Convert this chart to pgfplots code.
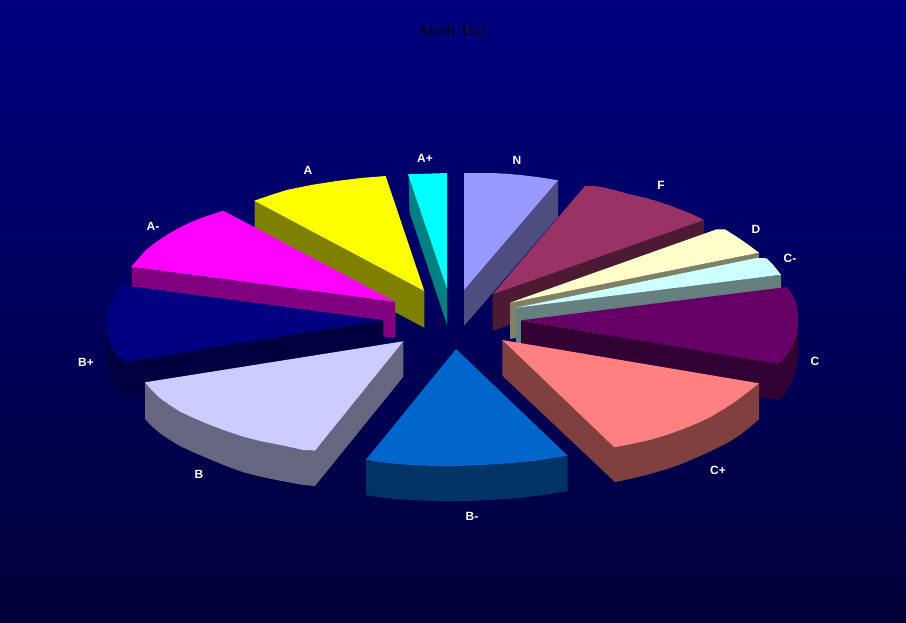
\documentclass[border=0pt]{standalone}
\usepackage{fontspec}
\setmainfont{Liberation Sans}
\usepackage{pgfplots}
\pgfplotsset{compat=1.18}

\definecolor{bgtop}{RGB}{0,0,128}
\definecolor{bgbot}{RGB}{0,0,56}
\definecolor{ntop}{RGB}{153,153,255}  \definecolor{nside}{RGB}{77,77,128}
\definecolor{aptop}{RGB}{0,255,255}   \definecolor{apside}{RGB}{0,128,128}
\definecolor{atop}{RGB}{255,255,0}    \definecolor{aside}{RGB}{128,128,0}
\definecolor{ftop}{RGB}{153,51,102}   \definecolor{fside}{RGB}{77,26,51}
\definecolor{dtop}{RGB}{255,255,204}  \definecolor{dside}{RGB}{128,128,102}
\definecolor{cmtop}{RGB}{204,255,255} \definecolor{cmside}{RGB}{102,128,128}
\definecolor{amtop}{RGB}{255,0,255}   \definecolor{amside}{RGB}{128,0,128}
\definecolor{ctop}{RGB}{102,0,102}    \definecolor{cside}{RGB}{51,0,51}
\definecolor{bptop}{RGB}{0,0,128}     \definecolor{bpside}{RGB}{0,0,64}
\definecolor{btop}{RGB}{204,204,255}  \definecolor{bside}{RGB}{102,102,128}
\definecolor{cptop}{RGB}{255,128,128} \definecolor{cpside}{RGB}{128,64,64}
\definecolor{bmtop}{RGB}{0,102,204}   \definecolor{bmside}{RGB}{0,51,102}

\tikzset{lab/.style={text=white, font=\fontsize{9}{10}\selectfont\bfseries, inner sep=0pt}}

\begin{document}
\begin{tikzpicture}
  % axis units are the pixels of the picture
  \begin{axis}[
      scale only axis,
      width=679.5bp,
      height=467.25bp,
      xmin=0, xmax=906,
      ymin=0, ymax=623,
      y dir=reverse,
      hide axis,
      clip=true,
      every axis plot/.append style={draw=none, no markers},
    ]
    \addplot[top color=bgtop, bottom color=bgbot] coordinates {(0,0) (906,0) (906,623) (0,623)} --cycle;

    % N
    \addplot[fill=nside] coordinates {(558,180.3) (464,290) (464,326) (558,217)} --cycle;
    \addplot[fill=ntop] coordinates {(464,173) (491.7,173) (507,173.8) (523.3,175.3) (541,177.5) (558,180.3) (464,290)} --cycle;
    % A+
    \addplot[fill=apside] coordinates {(408.5,175) (447,289) (447,325) (409.5,212)} --cycle;
    \addplot[fill=aptop] coordinates {(408,174.3) (447,173) (447,289)} --cycle;
    % A
    \addplot[fill=aside] coordinates {(254.5,200.7) (424.3,291) (424.3,327.7) (254.5,237.4)} --cycle;
    \addplot[fill=atop] coordinates {(254.3,200.7) (270,195.3) (286.7,190) (311,185) (336.7,181) (361,178) (385.7,176) (424.3,291)} --cycle;
    % F
    \addplot[fill=fside] coordinates {(492.7,294.3) (704,220) (704,257) (492.7,330.7)} --cycle;
    \addplot[fill=ftop] coordinates {(492.7,294.3) (585,186) (594,186) (603.3,187.3) (616,190.5) (630,194.3) (644,197.5) (656.7,201) (670,205.5) (683.3,210.7) (694,215) (704,220)} --cycle;
    % D
    \addplot[fill=dside] coordinates {(510,302.7) (759,252.7) (759,289) (510,339)} --cycle;
    \addplot[fill=dtop] coordinates {(510,302.7) (716.7,229.3) (725,229.3) (730,232.5) (736.7,236.7) (748,244.5) (759,252.7)} --cycle;
    % C-
    \addplot[fill=cmside] coordinates {(516,307.7) (781,274.7) (781,311) (516,344)} --cycle;
    \addplot[fill=cmtop] coordinates {(516,307.7) (756.7,258) (766.7,258.3) (773.3,265) (781,274.7)} --cycle;
    % A-
    \addplot[fill=amside] coordinates {(132,267) (395,301.7) (395,338) (132,303)} --cycle;
    \addplot[fill=amtop] coordinates {(131.3,266.7) (140,256.7) (146,250) (153.3,244) (165,236) (178.3,228.3) (190,222.5) (203.3,217.3) (223.3,210.7) (395,301.7)} --cycle;
    % C
    \addplot[fill=cside] coordinates {(521,320.3) (778.3,364) (798,313.3) (798,350) (797.5,360) (796,370) (792.7,380) (788,389) (783.5,395) (778.3,400) (521,357)} --cycle;
    \addplot[fill=ctop] coordinates {(521,320.3) (786.7,287) (790.5,291.5) (793.3,296.7) (796.5,305) (798,313.3) (798,323.5) (796.7,333.3) (793.5,344) (788.3,353.3) (783.5,359) (778.3,364)} --cycle;
    % B+
    \addplot[fill=bpside] coordinates {(106,320) (106,357) (107,367) (108.3,376) (112.5,385) (118,392) (125,397) (383.3,357) (383.3,320) (124.3,361.7)} --cycle;
    \addplot[fill=bptop] coordinates {(121.7,285) (115.8,292) (111.7,300) (108,310) (106,320) (106.5,330) (108.3,340) (112.5,349) (118,356) (124.3,361.7) (383.3,320)} --cycle;
    % B
    \addplot[fill=bside] coordinates {(145,382.3) (152,390.5) (160,398.3) (170,405.3) (180,411.7) (195,418.7) (210,425) (226,431) (243.3,436.7) (261,441.3) (280,445) (303.3,450) (315,450.7) (403.3,341.3) (403.3,376.7) (315,486) (303.3,485) (280,480.7) (261,476.8) (243.3,472.3) (226,466) (210,459.3) (195,453) (180,446) (170,440) (160,433.3) (152,426.5) (145,419)} --cycle;
    \addplot[fill=btop] coordinates {(145,382.3) (152,390.5) (160,398.3) (170,405.3) (180,411.7) (195,418.7) (210,425) (226,431) (243.3,436.7) (261,441.3) (280,445) (303.3,450) (315,450.7) (403.3,341.3)} --cycle;
    % C+
    \addplot[fill=cpside] coordinates {(502.3,340) (614.3,447.3) (632,444) (650,440) (667,435) (683.3,429) (697,423.5) (710,417.3) (724,409) (736.7,400.7) (748,392) (759,383.3) (759,419.3) (750,427) (740,435) (729,442) (716.7,448.3) (700,456) (683.3,463.3) (667,469) (650,474) (632,478.5) (615,482) (502.3,375.7)} --cycle;
    \addplot[fill=cptop] coordinates {(502.3,340) (614.3,447.3) (632,444) (650,440) (667,435) (683.3,429) (697,423.5) (710,417.3) (724,409) (736.7,400.7) (748,392) (759,383.3)} --cycle;
    % B-
    \addplot[fill=bmside] coordinates {(366,459.7) (378,461.7) (390,463.3) (403,464.5) (416.7,465.3) (436,466) (456.7,466) (478,465.3) (500,464) (518,462.5) (536.7,460.7) (552,458.3) (567.7,455.7) (567.7,491) (550,494) (516.7,498.3) (476.7,500.7) (456.7,501) (436.7,501) (396.7,499.3) (378,497) (366,495)} --cycle;
    \addplot[fill=bmtop] coordinates {(456,349) (366,459.7) (378,461.7) (390,463.3) (403,464.5) (416.7,465.3) (436,466) (456.7,466) (478,465.3) (500,464) (518,462.5) (536.7,460.7) (552,458.3) (567.7,455.7)} --cycle;

    \node[text=black, font=\fontsize{12}{14}\selectfont] at (axis cs:453,31) {Math 152};
    \node[lab] at (axis cs:425,158) {A+};
    \node[lab] at (axis cs:308,170) {A};
    \node[lab] at (axis cs:153,226) {A-};
    \node[lab] at (axis cs:86,362) {B+};
    \node[lab] at (axis cs:199,474) {B};
    \node[lab] at (axis cs:472,516) {B-};
    \node[lab] at (axis cs:718,470) {C+};
    \node[lab] at (axis cs:815,361) {C};
    \node[lab] at (axis cs:790,258) {C-};
    \node[lab] at (axis cs:756,229) {D};
    \node[lab] at (axis cs:661,185) {F};
    \node[lab] at (axis cs:517,160) {N};
  \end{axis}
\end{tikzpicture}
\end{document}
